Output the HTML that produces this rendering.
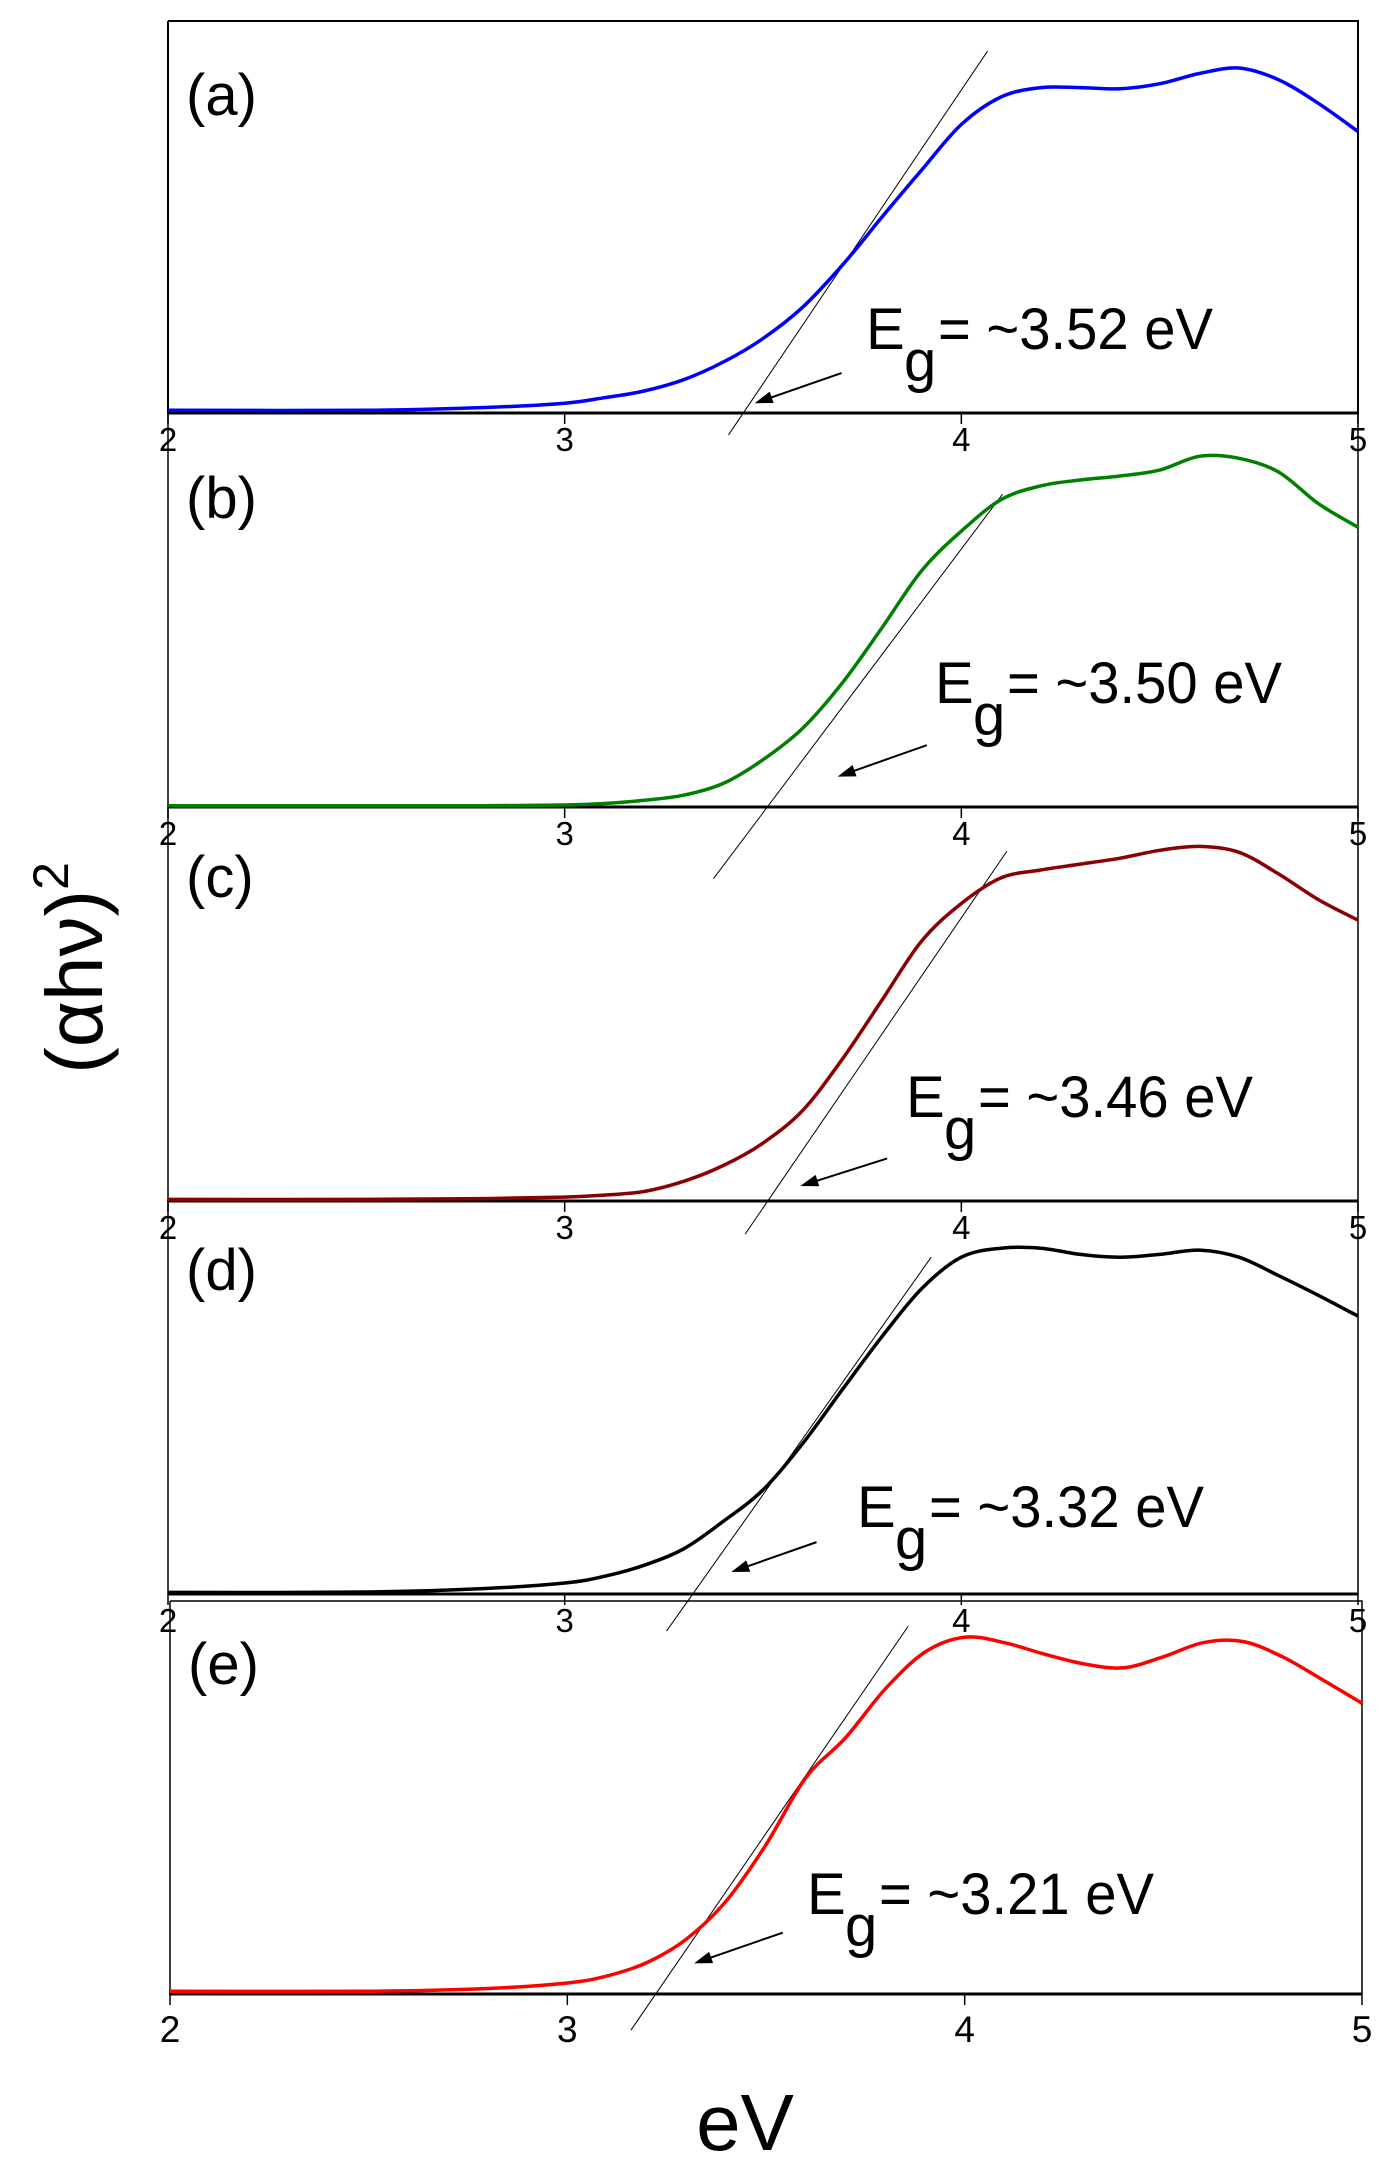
<!DOCTYPE html>
<html><head><meta charset="utf-8"><style>
html,body{margin:0;padding:0;background:#fff;}
svg{display:block;font-family:"Liberation Sans",Arial,sans-serif;}
</style></head><body>
<svg id="chart" width="1386" height="2158" viewBox="0 0 1386 2158" xmlns="http://www.w3.org/2000/svg"></svg>
<script>
const energies = [2,2.5,2.8,3.0,3.1,3.2,3.3,3.4,3.5,3.6,3.7,3.8,3.9,4.0,4.1,4.2,4.3,4.4,4.5,4.6,4.7,4.8,4.9,5.0];
const seriesA = [.007,.007,.014,.025,.039,.056,.085,.13,.19,.27,.377,.5,.62,.736,.806,.83,.83,.827,.84,.866,.88,.85,.79,.718];
const seriesB = [.003,.003,.003,.005,.009,.017,.03,.06,.12,.2,.315,.455,.6,.7,.78,.815,.83,.84,.855,.89,.885,.85,.77,.71];
const seriesC = [.004,.004,.006,.01,.015,.024,.05,.09,.147,.23,.36,.51,.66,.755,.82,.84,.855,.87,.89,.9,.885,.83,.765,.713];
const seriesD = [.004,.005,.014,.028,.045,.073,.115,.185,.265,.383,.52,.655,.777,.857,.88,.88,.864,.857,.864,.875,.857,.81,.76,.707];
const seriesE = [.007,.007,.014,.028,.046,.08,.14,.237,.38,.55,.652,.776,.87,.908,.894,.865,.84,.83,.858,.894,.897,.858,.8,.74];
const xTicks = [2,3,4,5];
const panelLabels = ["(a)","(b)","(c)","(d)","(e)"];
const gapValues = ["3.52","3.50","3.46","3.32","3.21"];
const tangents = [[3.413,-.056,4.066,.923],[3.375,-.182,4.104,.794],[3.455,-.084,4.115,.888],[3.257,-.094,3.924,.857],[3.16,-.092,3.858,.936]];
const arrows = [[3.698,.102,3.479,.025],[3.913,.157,3.688,.077],[3.813,.108,3.594,.038],[3.635,.132,3.42,.056],[3.542,.156,3.319,.078]];

const NS="http://www.w3.org/2000/svg";
const svg=document.getElementById('chart');
function el(tag,attrs,parent){const e=document.createElementNS(NS,tag);for(const k in attrs)e.setAttribute(k,attrs[k]);(parent||svg).appendChild(e);return e;}
function smoothPath(P){
  let d=`M${P[0][0].toFixed(1)},${P[0][1].toFixed(1)}`;
  for(let i=0;i<P.length-1;i++){
    const p0=P[i-1]||P[i],p1=P[i],p2=P[i+1],p3=P[i+2]||p2;
    const c1=[p1[0]+(p2[0]-p0[0])/6,p1[1]+(p2[1]-p0[1])/6];
    const c2=[p2[0]-(p3[0]-p1[0])/6,p2[1]-(p3[1]-p1[1])/6];
    d+=` C${c1[0].toFixed(1)},${c1[1].toFixed(1)} ${c2[0].toFixed(1)},${c2[1].toFixed(1)} ${p2[0].toFixed(1)},${p2[1].toFixed(1)}`;
  }
  return d;
}
const panels=[
 {top:21,bottom:413,left:168,right:1358,color:'#0000ff',data:seriesA,lab:94,E:[866,349],tickFs:33},
 {top:413,bottom:807,left:168,right:1358,color:'#008000',data:seriesB,lab:105,E:[935,703],tickFs:33},
 {top:807,bottom:1201,left:168,right:1358,color:'#8b0000',data:seriesC,lab:90,E:[906,1117],tickFs:33},
 {top:1201,bottom:1594,left:168,right:1358,color:'#000000',data:seriesD,lab:89,E:[857,1527],tickFs:33},
 {top:1601,bottom:1994,left:170,right:1362,color:'#ff0000',data:seriesE,lab:83,E:[807,1914],tickFs:37}
];
const names=['a','b','c','d','e'];
panels.forEach((p,i)=>{
  const g=el('g',{});
  
  
  const h=p.bottom-p.top;
  const xs=v=>p.left+(v-2)/3*(p.right-p.left);
  const ys=v=>p.bottom-v*h;
  const fr=el('path',{d:`M${p.left},${p.top}V${p.bottom}H${p.right}V${p.top}`+(i===0||i===4?`H${p.left}`:''),fill:'none',stroke:'#000','stroke-width':i===0?2:1.5},g);
  
  
  const ax=el('line',{x1:p.left,x2:p.right,y1:p.bottom,y2:p.bottom,stroke:'#000','stroke-width':3},g);
  
  
  xTicks.forEach(t=>{
    const tk=el('line',{x1:xs(t),x2:xs(t),y1:p.bottom,y2:p.bottom+11,stroke:'#000','stroke-width':1.5},g);
    
    
    const tl=el('text',{x:xs(t),y:p.bottom+(i===4?48:38),'font-size':p.tickFs,'text-anchor':'middle'},g);
    
    
    tl.textContent=t;
  });
  const tg=tangents[i];
  const tl=el('line',{x1:xs(tg[0]),y1:ys(tg[1]),x2:xs(tg[2]),y2:ys(tg[3]),stroke:'#000','stroke-width':1},g);
  
  
  const P=energies.map((x,k)=>[xs(x),ys(p.data[k])]);
  const c=el('path',{d:smoothPath(P),fill:'none',stroke:p.color,'stroke-width':3.5,'stroke-linejoin':'round'},g);
  
  
  const a=arrows[i];
  const x1=xs(a[0]),y1=ys(a[1]),x2=xs(a[2]),y2=ys(a[3]);
  const ang=Math.atan2(y2-y1,x2-x1);
  const ar=el('g',{},g);
  
  
  el('line',{x1:x1,y1:y1,x2:x2-12*Math.cos(ang),y2:y2-12*Math.sin(ang),stroke:'#000','stroke-width':2},ar);
  const L=18,W=6;
  const bx=x2-L*Math.cos(ang),by=y2-L*Math.sin(ang);
  el('polygon',{points:`${x2},${y2} ${bx+W*Math.sin(ang)},${by-W*Math.cos(ang)} ${bx-W*Math.sin(ang)},${by+W*Math.cos(ang)}`,fill:'#000'},ar);
  const pl=el('text',{x:p.left+18,y:p.top+p.lab,'font-size':58},g);
  
  
  pl.textContent=panelLabels[i];
  const eg=el('g',{'font-size':58},g);
  
  
  el('text',{x:p.E[0],y:p.E[1]},eg).textContent='E';
  el('text',{x:p.E[0]+38,y:p.E[1]+32},eg).textContent='g';
  const r=el('text',{x:p.E[0]+72,y:p.E[1],textLength:275,lengthAdjust:'spacingAndGlyphs'},eg);
  r.textContent='= ~'+gapValues[i]+' eV';
});
const yt=el('text',{x:0,y:0,'font-size':80,'text-anchor':'middle',transform:'translate(102,968) rotate(-90)'});


yt.innerHTML='(αhν)<tspan font-size="50" dy="-34">2</tspan>';
const xt=el('text',{x:745,y:2150,'font-size':80,'text-anchor':'middle'});


xt.textContent='eV';
</script>
</body></html>
